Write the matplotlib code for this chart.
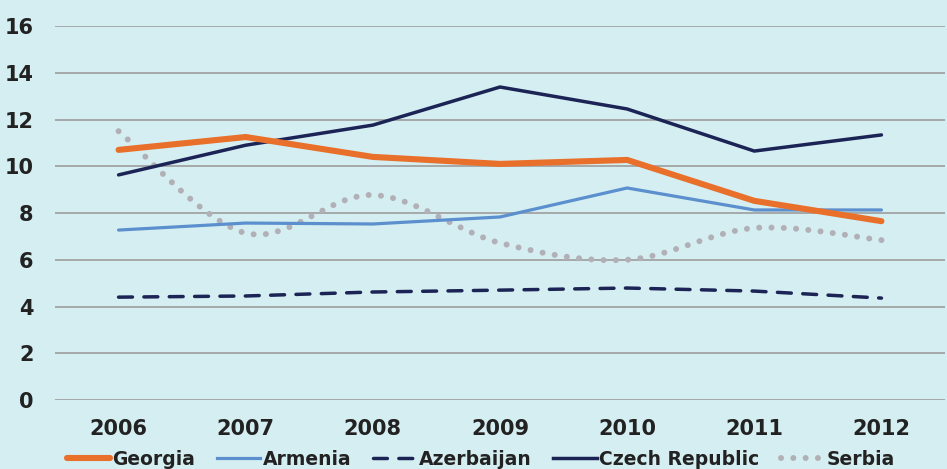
import numpy as np
import matplotlib
matplotlib.use("Agg")
import matplotlib.pyplot as plt
from matplotlib.path import Path
from matplotlib.patches import PathPatch
from matplotlib.lines import Line2D

plt.rcParams['font.family'] = ['DejaVu Sans']
plt.rcParams['font.weight'] = 'bold'

years = ['2006', '2007', '2008', '2009', '2010', '2011', '2012']
georgia = [10.7, 11.25, 10.4, 10.1, 10.27, 8.52, 7.65]
armenia = [7.27, 7.57, 7.53, 7.83, 9.07, 8.13, 8.13]
azerbaijan = [4.4, 4.45, 4.62, 4.7, 4.79, 4.66, 4.36]
czech = [9.63, 10.9, 11.76, 13.39, 12.45, 10.65, 11.34]
serbia = [11.5, 7.14, 8.77, 6.72, 6.0, 7.36, 6.84]

bg = '#d5eef2'
orange = '#e8702a'
lblue = '#5b8fce'
navy = '#1b2455'
grey = '#b1b0b6'
txt = '#222222'

fig = plt.figure(figsize=(9.47, 4.69), dpi=100, facecolor=bg)
ax = fig.add_axes([55/947, 69/469, 890/947, 374/469], facecolor=bg)

x = np.arange(len(years))

ax.plot(x, georgia, color=orange, lw=4.4, solid_capstyle='round', zorder=4)
ax.plot(x, armenia, color=lblue, lw=2.3, solid_capstyle='round', zorder=3)
ax.plot(x, azerbaijan, color=navy, lw=2.5, linestyle=(0, (4, 3.3)),
        dash_capstyle='round', zorder=3)
ax.plot(x, czech, color=navy, lw=2.5, solid_capstyle='round', zorder=3)

# smoothed dotted line for Serbia (Catmull-Rom as cubic Bezier)
pts = np.column_stack([x, serbia]).astype(float)
verts = [pts[0]]
codes = [Path.MOVETO]
n = len(pts)
for i in range(n - 1):
    p0 = pts[i - 1] if i > 0 else pts[i]
    p1 = pts[i]
    p2 = pts[i + 1]
    p3 = pts[i + 2] if i + 2 < n else pts[i + 1]
    c1 = p1 + (p2 - p0) / 6
    c2 = p2 - (p3 - p1) / 6
    verts += [c1, c2, p2]
    codes += [Path.CURVE4] * 3
patch = PathPatch(Path(verts, codes), fill=False, edgecolor=grey, lw=4.3,
                  linestyle=(0, (0.01, 2.05)), capstyle='round', zorder=2)
ax.add_patch(patch)

ax.set_xlim(-0.5, 6.5)
ax.set_ylim(0, 16)
ax.set_yticks(range(0, 17, 2))
ax.set_xticks(x)
ax.set_xticklabels(years)
ax.grid(axis='y', color='#a3a3a3', lw=1.3)
ax.set_axisbelow(True)
for s in ax.spines.values():
    s.set_visible(False)
ax.tick_params(axis='both', length=0, labelsize=15, colors=txt)
ax.tick_params(axis='y', pad=15.5)
ax.tick_params(axis='x', pad=14)

handles = [
    Line2D([], [], color=orange, lw=4.4, solid_capstyle='round'),
    Line2D([], [], color=lblue, lw=2.3),
    Line2D([], [], color=navy, lw=2.5, linestyle=(0, (4, 3.3)), dash_capstyle='round'),
    Line2D([], [], color=navy, lw=2.5),
    Line2D([], [], color=grey, lw=4.3, linestyle=(0, (0.01, 2.05)), dash_capstyle='round'),
]
labels = ['Georgia', 'Armenia', 'Azerbaijan', 'Czech Republic', 'Serbia']
fig.legend(handles, labels, loc='center', bbox_to_anchor=(481/947, 10/469),
           ncol=5, frameon=False, fontsize=13.5, handlelength=2.3,
           handletextpad=0.15, columnspacing=1.15, labelcolor=txt,
           borderaxespad=0, borderpad=0)

fig.savefig('out.png', dpi=100, facecolor=bg)
